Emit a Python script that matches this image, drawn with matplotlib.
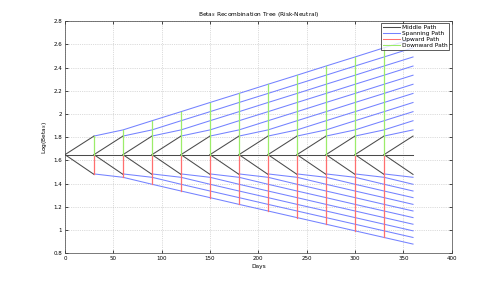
import matplotlib
matplotlib.use("Agg")
import matplotlib.pyplot as plt

# Data
step_days = 30
n_steps = 12
mid_level = 1.65
up_node = 1.81
down_node = 1.48
span_up = [1.81, 1.863, 1.942, 2.020, 2.099, 2.177, 2.256, 2.334, 2.413, 2.491, 2.570, 2.648]
span_down = [1.484, 1.455, 1.395, 1.337, 1.280, 1.222, 1.165, 1.108, 1.051, 0.994, 0.937, 0.880]
xticks = [0, 50, 100, 150, 200, 250, 300, 350, 400]
yticks = [0.8, 1.0, 1.2, 1.4, 1.6, 1.8, 2.0, 2.2, 2.4, 2.6, 2.8]
ytick_labels = ["0.8", "1", "1.2", "1.4", "1.6", "1.8", "2", "2.2", "2.4", "2.6", "2.8"]

c_mid = "#4a4a4a"
c_span = "#7482ff"
c_up = "#ff6f6f"
c_down = "#9cec6a"

fig = plt.figure(figsize=(4.98, 2.85), dpi=100)
ax = fig.add_axes([0.1305, 0.111, 0.7765, 0.815])

lw = 0.75
times = [k * step_days for k in range(n_steps + 1)]

# spanning paths
for k in range(1, n_steps):
    ts = times[k:]
    ax.plot(ts, span_up[:len(ts)], color=c_span, lw=lw)
    ax.plot(ts, span_down[:len(ts)], color=c_span, lw=lw)

# middle path & branches
ax.plot([times[0], times[-1]], [mid_level, mid_level], color=c_mid, lw=lw)
for k in range(n_steps):
    t0, t1 = times[k], times[k + 1]
    ax.plot([t0, t1], [mid_level, up_node], color=c_mid, lw=lw)
    ax.plot([t0, t1], [mid_level, down_node], color=c_mid, lw=lw)

# vertical paths
for k in range(1, n_steps):
    t = times[k]
    ax.plot([t, t], [mid_level, span_down[k - 1]], color=c_up, lw=0.9)
    ax.plot([t, t], [mid_level, span_up[k - 1]], color=c_down, lw=0.9)

# legend proxies
h = [
    plt.Line2D([], [], color=c_mid, lw=lw),
    plt.Line2D([], [], color=c_span, lw=lw),
    plt.Line2D([], [], color=c_up, lw=lw),
    plt.Line2D([], [], color=c_down, lw=lw),
]
leg = ax.legend(h, ["Middle Path", "Spanning Path", "Upward Path", "Downward Path"],
                loc="upper right", fontsize=4.2, frameon=True, fancybox=False,
                borderpad=0.3, handlelength=3.0, handletextpad=0.3, labelspacing=0.15,
                borderaxespad=0.4)
leg.get_frame().set_edgecolor("#333333")
leg.get_frame().set_linewidth(0.7)

ax.set_xlim(0, 400)
ax.set_ylim(0.8, 2.8)
ax.set_xticks(xticks)
ax.set_yticks(yticks)
ax.set_yticklabels(ytick_labels)
ax.tick_params(direction="in", labelsize=4, length=2, width=0.5, pad=2, top=True, right=True)
ax.grid(True, linestyle=":", color="#bbbbbb", lw=0.5)
for s in ax.spines.values():
    s.set_linewidth(0.5)
    s.set_color("#444444")

ax.set_title(r"Beta$_S$ Recombination Tree (Risk-Neutral)", fontsize=4.2, pad=4)
ax.set_xlabel("Days", fontsize=4.2, labelpad=2)
ax.set_ylabel(r"Log(Beta$_S$)", fontsize=4.2, labelpad=3)

fig.savefig("out.png", dpi=100)
